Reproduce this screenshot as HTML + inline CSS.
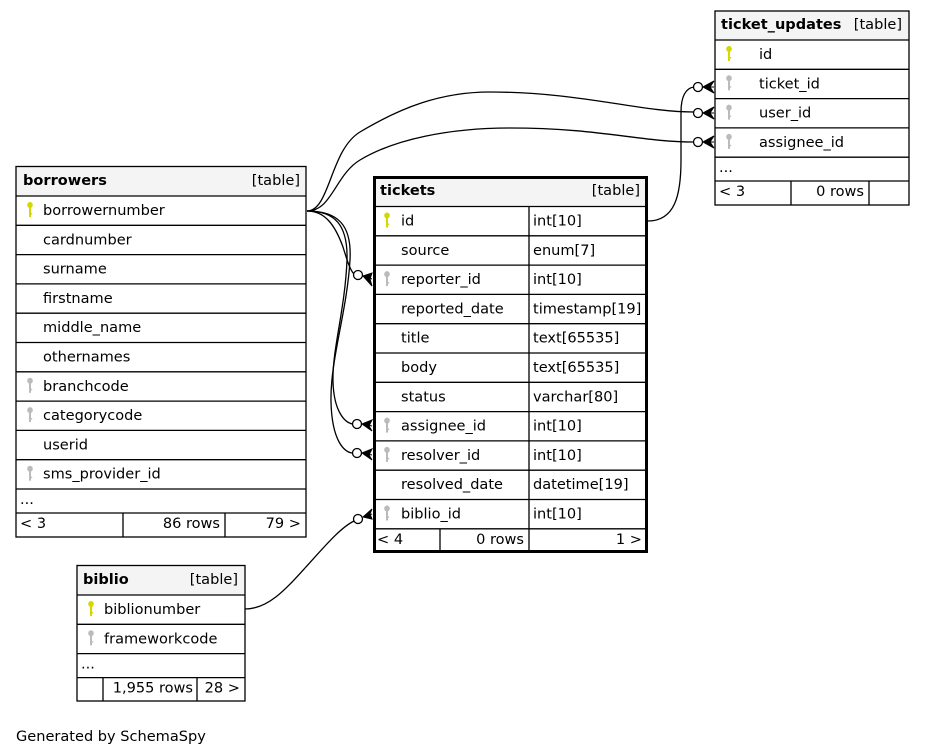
<!DOCTYPE html>
<html>
<head>
<meta charset="utf-8">
<style>
html,body{margin:0;padding:0;background:#fff;}
svg{display:block;}
text{font-family:"DejaVu Sans","Liberation Sans",sans-serif;font-size:14.55px;fill:#000;}
.b{font-weight:bold;}
.ln{stroke:#000;stroke-width:1.3;fill:none;}
.e{stroke:#000;stroke-width:1.3;fill:none;}
.hd{fill:#f4f4f4;}
</style>
</head>
<body>
<svg width="925" height="756" viewBox="0 0 925 756" xmlns="http://www.w3.org/2000/svg">
<defs>
  <g id="ky">
    <ellipse cx="0" cy="3" rx="2.8" ry="3"/>
    <rect x="-1" y="3" width="2" height="12"/>
    <rect x="0" y="11" width="2.2" height="1.4"/>
  </g>
</defs>

<!-- ============ EDGES ============ -->
<path class="e" d="M307,211 C330,211 330,150 360,132 C400,108 440,92 490,92 C580,92 640,112 694,112"/>
<path class="e" d="M307,211 C332,211 335,175 360,160 C395,139 450,128 510,128 C600,128 640,142 694,142"/>
<path class="e" d="M648,221 C675,221 681,195 681,160 L681,112 C681,96 686,88 694,87"/>
<path class="e" d="M307,211 C325,211 335,225 343,247 C347,260 350,270 354,274"/>
<path class="e" d="M307,211 C335,211 348,225 347,260 C345,310 332,350 333,382 C334,412 345,423 353,424"/>
<path class="e" d="M307,211 C338,211 352,225 350,260 C347,312 330,360 331,402 C332,442 345,453 353,453"/>
<path class="e" d="M245,609 C268,609 285,590 305,568 C325,546 340,528 354,521"/>

<g stroke="#000" stroke-width="1.3" fill="#fff">
  <circle cx="698" cy="87" r="4.5"/>
  <circle cx="698" cy="113" r="4.5"/>
  <circle cx="698" cy="142" r="4.5"/>
  <circle cx="358" cy="275" r="4.5"/>
  <circle cx="357" cy="424" r="4.5"/>
  <circle cx="357" cy="453" r="4.5"/>
  <circle cx="358" cy="519" r="4.5"/>
</g>
<g fill="#000" stroke="#000" stroke-width="1">
  <path d="M703,87 L714,81 L710,87 L714,93 Z M703,87 L714,87"/>
  <path d="M703,113 L714,107 L710,113 L714,119 Z M703,113 L714,113"/>
  <path d="M703,142 L714,136 L710,142 L714,148 Z M703,142 L714,142"/>
  <path d="M363,276 L372,273 L370,279 L372,286 Z M363,276 L372,279"/>
  <path d="M362,424 L372,420 L369,426 L372,431 Z M362,424 L372,426"/>
  <path d="M362,453 L372,449 L369,455 L372,460 Z M362,453 L372,455"/>
  <path d="M363,517 L372,509 L370,514 L372,519 Z M363,517 L372,514"/>
</g>

<!-- ============ ticket_updates ============ -->
<rect class="hd" x="715" y="11" width="194" height="29"/>
<rect class="ln" x="715" y="11" width="194" height="194"/>
<g class="ln">
  <line x1="715" y1="40" x2="909" y2="40"/>
  <line x1="715" y1="69.3" x2="909" y2="69.3"/>
  <line x1="715" y1="98.6" x2="909" y2="98.6"/>
  <line x1="715" y1="127.9" x2="909" y2="127.9"/>
  <line x1="715" y1="157.2" x2="909" y2="157.2"/>
  <line x1="715" y1="181" x2="909" y2="181"/>
  <line x1="791" y1="181" x2="791" y2="205"/>
  <line x1="869" y1="181" x2="869" y2="205"/>
</g>
<text class="b" x="721" y="29">ticket_updates</text>
<text x="902" y="29" text-anchor="end">[table]</text>
<use href="#ky" x="729" y="46" fill="#d6d600"/>
<text x="759" y="59">id</text>
<use href="#ky" x="729" y="75.3" fill="#bbbbbb"/>
<text x="759" y="88.3">ticket_id</text>
<use href="#ky" x="729" y="104.6" fill="#bbbbbb"/>
<text x="759" y="117.6">user_id</text>
<use href="#ky" x="729" y="133.9" fill="#bbbbbb"/>
<text x="759" y="146.9">assignee_id</text>
<text x="719" y="172">...</text>
<text x="719" y="196">&lt; 3</text>
<text x="864" y="196" text-anchor="end">0 rows</text>

<!-- ============ borrowers ============ -->
<rect class="hd" x="16" y="166.5" width="290" height="29.5"/>
<rect class="ln" x="16" y="166.5" width="290" height="370.5"/>
<g class="ln">
  <line x1="16" y1="196" x2="306" y2="196"/>
  <line x1="16" y1="225.3" x2="306" y2="225.3"/>
  <line x1="16" y1="254.6" x2="306" y2="254.6"/>
  <line x1="16" y1="283.9" x2="306" y2="283.9"/>
  <line x1="16" y1="313.2" x2="306" y2="313.2"/>
  <line x1="16" y1="342.5" x2="306" y2="342.5"/>
  <line x1="16" y1="371.8" x2="306" y2="371.8"/>
  <line x1="16" y1="401.1" x2="306" y2="401.1"/>
  <line x1="16" y1="430.4" x2="306" y2="430.4"/>
  <line x1="16" y1="459.7" x2="306" y2="459.7"/>
  <line x1="16" y1="489" x2="306" y2="489"/>
  <line x1="16" y1="513" x2="306" y2="513"/>
  <line x1="123" y1="513" x2="123" y2="537"/>
  <line x1="225" y1="513" x2="225" y2="537"/>
</g>
<text class="b" x="23" y="185">borrowers</text>
<text x="300" y="185" text-anchor="end">[table]</text>
<use href="#ky" x="30" y="202" fill="#d6d600"/>
<text x="43" y="215">borrowernumber</text>
<text x="43" y="244.3">cardnumber</text>
<text x="43" y="273.6">surname</text>
<text x="43" y="302.9">firstname</text>
<text x="43" y="332.2">middle_name</text>
<text x="43" y="361.5">othernames</text>
<use href="#ky" x="30" y="377.8" fill="#bbbbbb"/>
<text x="43" y="390.8">branchcode</text>
<use href="#ky" x="30" y="407.1" fill="#bbbbbb"/>
<text x="43" y="420.1">categorycode</text>
<text x="43" y="449.4">userid</text>
<use href="#ky" x="30" y="465.7" fill="#bbbbbb"/>
<text x="43" y="478.7">sms_provider_id</text>
<text x="20" y="504">...</text>
<text x="20" y="528">&lt; 3</text>
<text x="220" y="528" text-anchor="end">86 rows</text>
<text x="301" y="528" text-anchor="end">79 &gt;</text>

<!-- ============ tickets ============ -->
<rect class="hd" x="374.5" y="177.5" width="272" height="29"/>
<g class="ln">
  <line x1="373" y1="206.5" x2="648" y2="206.5"/>
  <line x1="373" y1="235.8" x2="648" y2="235.8"/>
  <line x1="373" y1="265.1" x2="648" y2="265.1"/>
  <line x1="373" y1="294.4" x2="648" y2="294.4"/>
  <line x1="373" y1="323.7" x2="648" y2="323.7"/>
  <line x1="373" y1="353" x2="648" y2="353"/>
  <line x1="373" y1="382.3" x2="648" y2="382.3"/>
  <line x1="373" y1="411.6" x2="648" y2="411.6"/>
  <line x1="373" y1="440.9" x2="648" y2="440.9"/>
  <line x1="373" y1="470.2" x2="648" y2="470.2"/>
  <line x1="373" y1="499.5" x2="648" y2="499.5"/>
  <line x1="373" y1="528.8" x2="648" y2="528.8"/>
  <line x1="529" y1="206.5" x2="529" y2="553"/>
  <line x1="440" y1="528.8" x2="440" y2="553"/>
</g>
<rect x="374.5" y="177.5" width="272" height="374" fill="none" stroke="#000" stroke-width="3"/>
<text class="b" x="380" y="195">tickets</text>
<text x="640" y="195" text-anchor="end">[table]</text>

<use href="#ky" x="387" y="212.5" fill="#d6d600"/>
<text x="401" y="225.5">id</text>
<text x="533" y="225.5">int[10]</text>

<text x="401" y="254.8">source</text>
<text x="533" y="254.8">enum[7]</text>

<use href="#ky" x="387" y="271.1" fill="#bbbbbb"/>
<text x="401" y="284.1">reporter_id</text>
<text x="533" y="284.1">int[10]</text>

<text x="401" y="313.4">reported_date</text>
<text x="533" y="313.4">timestamp[19]</text>

<text x="401" y="342.7">title</text>
<text x="533" y="342.7">text[65535]</text>

<text x="401" y="372">body</text>
<text x="533" y="372">text[65535]</text>

<text x="401" y="401.3">status</text>
<text x="533" y="401.3">varchar[80]</text>

<use href="#ky" x="387" y="417.6" fill="#bbbbbb"/>
<text x="401" y="430.6">assignee_id</text>
<text x="533" y="430.6">int[10]</text>

<use href="#ky" x="387" y="446.9" fill="#bbbbbb"/>
<text x="401" y="459.9">resolver_id</text>
<text x="533" y="459.9">int[10]</text>

<text x="401" y="489.2">resolved_date</text>
<text x="533" y="489.2">datetime[19]</text>

<use href="#ky" x="387" y="505.5" fill="#bbbbbb"/>
<text x="401" y="518.5">biblio_id</text>
<text x="533" y="518.5">int[10]</text>

<text x="377" y="544">&lt; 4</text>
<text x="524" y="544" text-anchor="end">0 rows</text>
<text x="642" y="544" text-anchor="end">1 &gt;</text>

<!-- ============ biblio ============ -->
<rect class="hd" x="77" y="565.5" width="168" height="29.5"/>
<rect class="ln" x="77" y="565.5" width="168" height="135.5"/>
<g class="ln">
  <line x1="77" y1="595" x2="245" y2="595"/>
  <line x1="77" y1="624.3" x2="245" y2="624.3"/>
  <line x1="77" y1="653.6" x2="245" y2="653.6"/>
  <line x1="77" y1="677.6" x2="245" y2="677.6"/>
  <line x1="103" y1="677.6" x2="103" y2="701"/>
  <line x1="197" y1="677.6" x2="197" y2="701"/>
</g>
<text class="b" x="83" y="584">biblio</text>
<text x="238" y="584" text-anchor="end">[table]</text>
<use href="#ky" x="91" y="601" fill="#d6d600"/>
<text x="104" y="614">biblionumber</text>
<use href="#ky" x="91" y="630.3" fill="#bbbbbb"/>
<text x="104" y="643.3">frameworkcode</text>
<text x="81" y="668.6">...</text>
<text x="193" y="692.6" text-anchor="end">1,955 rows</text>
<text x="240" y="692.6" text-anchor="end">28 &gt;</text>

<text x="16" y="741">Generated by SchemaSpy</text>
</svg>
</body>
</html>
